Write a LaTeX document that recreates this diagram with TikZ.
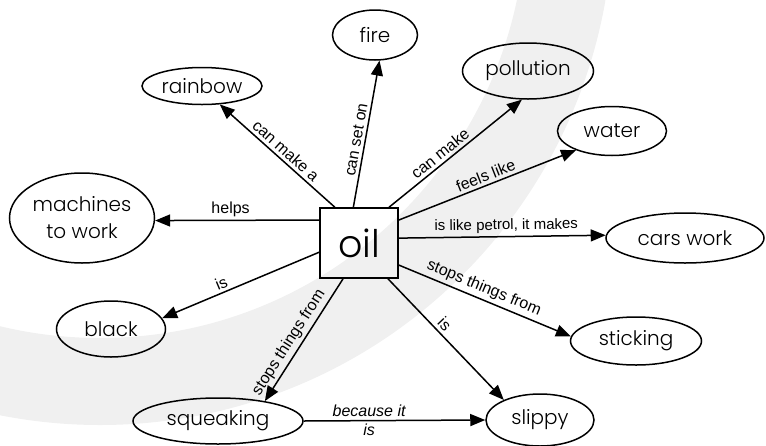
\documentclass[tikz,border=0pt]{standalone}
\usepackage{fontspec}
\setmainfont{Liberation Sans}
\newfontfamily\conceptfont{Poppins Light}
\usetikzlibrary{arrows.meta}
\usetikzlibrary{shapes.geometric}

\begin{document}
\begin{tikzpicture}
[x=1pt,y=-1pt,%
  every node/.style={inner sep=0pt},%
  concept/.style={shape=ellipse,draw,line width=1.5pt,align=center,%
    font=\conceptfont\fontsize{20}{27}\selectfont},%
  link/.style={-{Triangle[length=15pt,width=12pt]},line width=1.5pt},%
  lbl/.style={font=\fontsize{16}{18}\selectfont,sloped,above,inner sep=3pt}]
\useasboundingbox (0,0) rectangle (766,445);
% grey swoosh behind everything
\begin{scope}
  \clip (0,0) rectangle (766,445);
  \fill[gray!12,even odd rule] (100,-88) circle[radius=513pt]
    (100,-88) circle[radius=426pt];
\end{scope}
\node[draw,line width=1.5pt,minimum width=78pt,minimum height=70pt,%
  font=\conceptfont\fontsize{38}{40}\selectfont] (oil) at (359,243) {oil};
\node[concept,minimum width=120pt,minimum height=37pt] (rainbow) at (202,86) {rainbow};
\node[concept,minimum width=85pt,minimum height=50pt] (fire) at (375,35) {fire};
\node[concept,minimum width=131pt,minimum height=56pt] (pollution) at (528,71) {pollution};
\node[concept,minimum width=109pt,minimum height=49pt] (water) at (612,131) {water};
\node[concept,minimum width=158pt,minimum height=50pt] (cars) at (685,238) {cars work};
\node[concept,minimum width=131pt,minimum height=48pt] (sticking) at (636,341) {sticking};
\node[concept,minimum width=108pt,minimum height=52pt] (slippy) at (540,420) {slippy};
\node[concept,minimum width=170pt,minimum height=46pt] (squeaking) at (218,421) {squeaking};
\node[concept,minimum width=109pt,minimum height=56pt] (black) at (111,329) {black};
\node[concept,minimum width=145pt,minimum height=90pt] (machines) at (82,218) {machines\\to work};
% links out of oil
\draw[link] (oil.124) -- node[lbl,pos=0.48] (lrainbow) {can make a} (rainbow.-46);
\draw[link] (oil.99.5) -- node[lbl,pos=0.45] (lfire) {can set on} (fire.-80);
\draw[link] (oil.50) -- node[lbl,pos=0.43] (lpollution) {can make} (pollution.-102);
\draw[link] (oil.30.5) -- node[lbl,pos=0.51] (lwater) {feels like} (water.-152);
\draw[link] (oil.7.3) -- node[lbl,pos=0.52,font=\fontsize{15}{17}\selectfont] (lcars) {is like petrol, it makes} (cars.178);
\draw[link] (oil.-29.4) -- node[lbl,pos=0.47] (lsticking) {stops things from} (sticking.176.5);
\draw[link] (oil.-51.3) -- node[lbl,pos=0.43] (lslippy) {is} (slippy.151);
\draw[link] (oil.-114.6) -- node[lbl,pos=0.57] (lsqueaking) {stops things from} (squeaking.23);
\draw[link] (oil.193) -- node[lbl,pos=0.6] (lblack) {is} (black.12.5);
\draw[link] (oil.150.6) -- node[lbl,pos=0.54] (lmachines) {helps} (machines.-2);
\draw[link] (squeaking.east) -- node[pos=0.36,align=center,%
  font=\itshape\fontsize{16}{19}\selectfont] (lbecause) {because it\\is} (slippy.west);
\end{tikzpicture}
\end{document}
